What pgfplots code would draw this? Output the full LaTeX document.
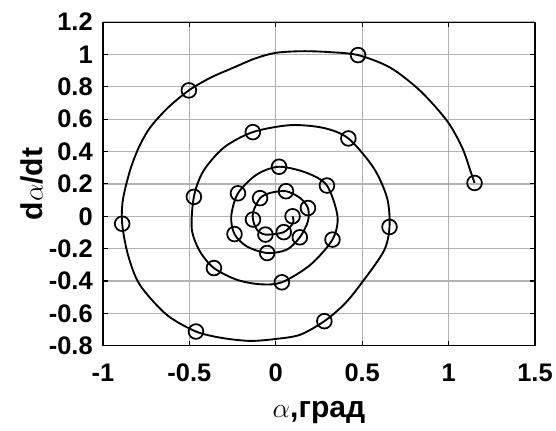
\documentclass[border=0pt]{standalone}
\usepackage{fontspec}
\setmainfont{Liberation Sans}
\usepackage{pgfplots}
\pgfplotsset{compat=1.18}

\begin{document}
\begin{tikzpicture}
\begin{axis}[
  width=323pt, height=242pt,
  scale only axis,
  xmin=-1, xmax=1.5,
  ymin=-0.8, ymax=1.2,
  xtick={-1,-0.5,0,0.5,1,1.5},
  ytick={-0.8,-0.6,-0.4,-0.2,0,0.2,0.4,0.6,0.8,1,1.2},
  tick align=inside,
  tick pos=both,
  major tick length=3.5pt,
  xmajorgrids=true, ymajorgrids=true,
  grid style={black!30, line width=1pt},
  axis line style={line width=0.8pt},
  every tick/.append style={black, line width=0.8pt},
  /pgf/number format/assume math mode=true,
  tick label style={font=\fontsize{19}{20}\selectfont\bfseries, inner sep=1pt},
  xticklabel style={yshift=-12.5pt},
  yticklabel style={xshift=-6.5pt},
  label style={font=\fontsize{22.5}{24}\selectfont\bfseries},
  xlabel={$\alpha$,град},
  ylabel={d$\alpha$/dt},
  xlabel style={at={(axis description cs:0.5,0)}, anchor=base, yshift=-54pt},
  ylabel style={at={(axis description cs:0,0.5)}, anchor=center, yshift=53pt},
]
\addplot[black, line width=1.4pt, smooth, tension=0.5] coordinates {
(1.150,0.206) (1.127,0.278) (1.079,0.423) (0.992,0.588) (0.837,0.774)
(0.663,0.918) (0.476,0.996) (0.30,1.015) (0.15,1.02) (0.0,1.01)
(-0.12,0.975) (-0.246,0.918) (-0.38,0.855) (-0.503,0.778) (-0.625,0.67)
(-0.729,0.546) (-0.795,0.42) (-0.845,0.278) (-0.885,0.10) (-0.889,-0.046)
(-0.855,-0.24) (-0.787,-0.423) (-0.632,-0.608) (-0.462,-0.712) (-0.31,-0.752)
(-0.149,-0.770) (0.0,-0.758) (0.141,-0.732) (0.281,-0.648) (0.395,-0.545)
(0.489,-0.423) (0.624,-0.217) (0.658,-0.066) (0.644,0.113) (0.566,0.299)
(0.420,0.481) (0.276,0.546) (0.083,0.563) (-0.133,0.520) (-0.30,0.425)
(-0.42,0.278) (-0.474,0.120) (-0.486,-0.08) (-0.439,-0.217) (-0.358,-0.320)
(-0.226,-0.392) (-0.091,-0.420) (0.035,-0.408) (0.20,-0.30) (0.328,-0.144)
(0.357,0.0) (0.296,0.190) (0.18,0.268) (0.019,0.306) (-0.11,0.258)
(-0.219,0.142) (-0.258,0.0) (-0.239,-0.110) (-0.168,-0.186) (-0.050,-0.227)
(0.064,-0.206) (0.139,-0.130) (0.186,-0.031) (0.186,0.051) (0.141,0.113)
(0.059,0.155) (-0.033,0.144) (-0.091,0.112) (-0.13,0.031) (-0.132,-0.020)
(-0.11,-0.082) (-0.060,-0.113) (0.046,-0.098) (0.100,-0.041) (0.097,0.0)
};
\addplot[only marks, mark=o, mark size=5.5pt, mark options={line width=1.3pt, black}] coordinates {
(1.150,0.206) (0.476,0.996) (-0.503,0.778) (-0.889,-0.046) (-0.462,-0.712)
(0.281,-0.648) (0.658,-0.066) (0.420,0.481) (-0.133,0.520) (-0.474,0.120)
(-0.358,-0.320) (0.035,-0.408) (0.328,-0.144) (0.296,0.190) (0.019,0.306)
(-0.219,0.142) (-0.239,-0.110) (-0.050,-0.227) (0.139,-0.130) (0.186,0.051)
(0.059,0.155) (-0.091,0.112) (-0.132,-0.020) (-0.060,-0.113) (0.046,-0.098)
(0.097,0.0)
};
\end{axis}
\path ([xshift=-77pt,yshift=-63pt]current axis.south west)
  rectangle ([xshift=15.7pt,yshift=16.5pt]current axis.north east);
\end{tikzpicture}
\end{document}
